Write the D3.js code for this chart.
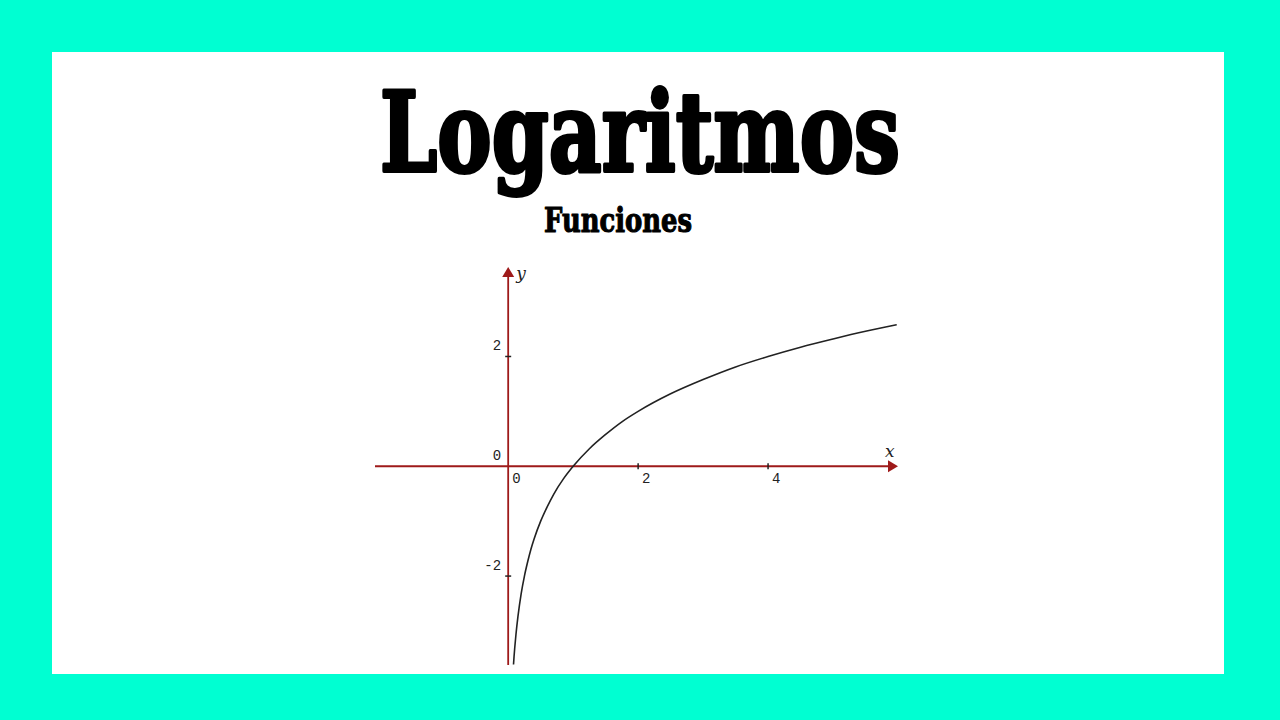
<!DOCTYPE html>
<html><head><meta charset="utf-8">
<script src="https://cdn.jsdelivr.net/npm/d3@7"></script>
<style>html,body{margin:0;padding:0;background:#00FFD2;}svg{display:block}</style>
</head><body>
<script>
const curveX = [0.082, 0.09, 0.1, 0.12, 0.15, 0.2, 0.25, 0.3, 0.35, 0.4, 0.5, 0.6, 0.7, 0.85, 1, 1.25, 1.5, 1.75, 2, 2.5, 3, 3.5, 4, 4.5, 5, 5.5, 5.98];
const curveY = [-3.61, -3.47, -3.32, -3.06, -2.74, -2.32, -2.0, -1.74, -1.51, -1.32, -1.0, -0.74, -0.51, -0.23, 0, 0.32, 0.58, 0.81, 1.0, 1.32, 1.58, 1.81, 2.0, 2.17, 2.32, 2.46, 2.58];
const xTicks = [2, 4];
const yTicks = [2, -2];
const xTickLabels = ["0", "2", "4"];
const yTickLabels = ["2", "0", "-2"];
const titleText = "Logaritmos";
const subtitleText = "Funciones";

const W = 1280, H = 720;
const svg = d3.select("body").append("svg").attr("width", W).attr("height", H);
svg.append("rect").attr("width", W).attr("height", H).attr("fill", "#00FFD2");
svg.append("rect").attr("x", 52).attr("y", 52).attr("width", 1172).attr("height", 622).attr("fill", "#fff");

// Title
svg.append("text").attr("x", 380).attr("y", 171)
  .attr("font-family", "DejaVu Serif").attr("font-weight", "bold").attr("font-size", 110)
  .attr("textLength", 520).attr("lengthAdjust", "spacingAndGlyphs")
  .attr("fill", "#000").attr("stroke", "#000").attr("stroke-width", 4).attr("stroke-linejoin", "round")
  .text(titleText);
svg.append("text").attr("x", 544).attr("y", 232)
  .attr("font-family", "DejaVu Serif").attr("font-weight", "bold").attr("font-size", 34)
  .attr("textLength", 148).attr("lengthAdjust", "spacingAndGlyphs")
  .attr("fill", "#000").attr("stroke", "#000").attr("stroke-width", 1.2).attr("stroke-linejoin", "round")
  .text(subtitleText);

const x = d3.scaleLinear().domain([-2.05, 6.0]).range([375, 898]);
const y = d3.scaleLinear().domain([-3.62, 3.63]).range([665, 267]);
const red = "#9E1A1A";

// Axes lines
svg.append("line").attr("x1", x(-2.05)).attr("x2", x(6.0) - 8).attr("y1", y(0)).attr("y2", y(0))
  .attr("stroke", red).attr("stroke-width", 1.8);
svg.append("line").attr("x1", x(0)).attr("x2", x(0)).attr("y1", y(-3.62)).attr("y2", y(3.63) + 8)
  .attr("stroke", red).attr("stroke-width", 1.8);
// Arrowheads
svg.append("path").attr("fill", red)
  .attr("d", `M${x(6.0)},${y(0)} L${x(6.0) - 10},${y(0) - 6} L${x(6.0) - 10},${y(0) + 6} Z`);
svg.append("path").attr("fill", red)
  .attr("d", `M${x(0)},${y(3.63)} L${x(0) - 6},${y(3.63) + 10} L${x(0) + 6},${y(3.63) + 10} Z`);

// ticks
svg.selectAll(".xt").data(xTicks).enter().append("line")
  .attr("x1", d => x(d)).attr("x2", d => x(d)).attr("y1", y(0) - 3).attr("y2", y(0) + 3)
  .attr("stroke", "#222").attr("stroke-width", 1.5);
svg.selectAll(".yt").data(yTicks).enter().append("line")
  .attr("x1", x(0) - 3).attr("x2", x(0) + 3).attr("y1", d => y(d)).attr("y2", d => y(d))
  .attr("stroke", "#222").attr("stroke-width", 1.5);

const lblFont = "Liberation Mono";
svg.selectAll(".xl").data(xTickLabels).enter().append("text")
  .attr("x", d => x(+d) + 4).attr("y", y(0) + 17)
  .attr("font-family", lblFont).attr("font-size", 14).attr("fill", "#222").text(d => d);
svg.selectAll(".yl").data(yTickLabels).enter().append("text")
  .attr("x", x(0) - 7).attr("y", d => y(+d) - 6).attr("text-anchor", "end")
  .attr("font-family", lblFont).attr("font-size", 14).attr("fill", "#222").text(d => d);

// axis names
svg.append("text").attr("x", x(0) + 8).attr("y", y(3.63) + 12)
  .attr("font-family", "DejaVu Serif").attr("font-style", "italic").attr("font-size", 17).attr("fill", "#222").text("y");
svg.append("text").attr("x", x(6.0) - 13).attr("y", y(0) - 9)
  .attr("font-family", "DejaVu Serif").attr("font-style", "italic").attr("font-size", 17).attr("fill", "#222").text("x");

// curve
const pts = curveX.map((v, i) => [v, curveY[i]]);
svg.append("path").datum(pts)
  .attr("d", d3.line().x(d => x(d[0])).y(d => y(d[1])).curve(d3.curveMonotoneX))
  .attr("fill", "none").attr("stroke", "#222").attr("stroke-width", 1.6);
</script>
</body></html>
